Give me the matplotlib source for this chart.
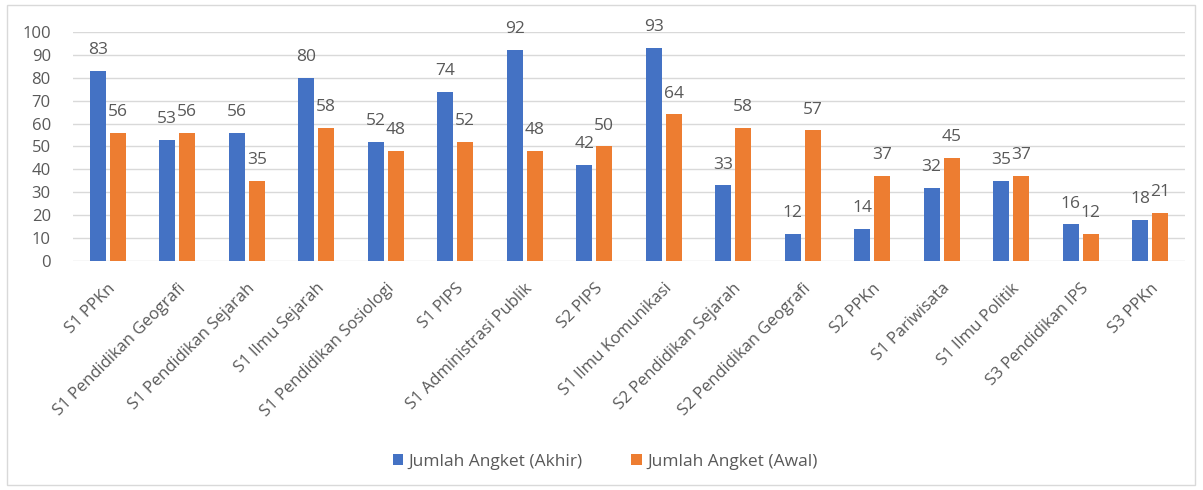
import matplotlib
matplotlib.use("Agg")
import matplotlib.pyplot as plt
import numpy as np
from matplotlib.patches import Rectangle

categories = ["S1 PPKn", "S1 Pendidikan Geografi", "S1 Pendidikan Sejarah", "S1 Ilmu Sejarah",
              "S1 Pendidikan Sosiologi", "S1 PIPS", "S1 Administrasi Publik", "S2 PIPS",
              "S1 Ilmu Komunikasi", "S2 Pendidikan Sejarah", "S2 Pendidikan Geografi", "S2 PPKn",
              "S1 Pariwisata", "S1 Ilmu Politik", "S3 Pendidikan IPS", "S3 PPKn"]
akhir = [83, 53, 56, 80, 52, 74, 92, 42, 93, 33, 12, 14, 32, 35, 16, 18]
awal = [56, 56, 35, 58, 48, 52, 48, 50, 64, 58, 57, 37, 45, 37, 12, 21]
yticks = [0, 10, 20, 30, 40, 50, 60, 70, 80, 90, 100]

blue = "#4472C4"
orange = "#ED7D31"
txt = "#595959"

plt.rcParams['font.family'] = ['Open Sans', 'DejaVu Sans']

fig = plt.figure(figsize=(12.03, 4.9), dpi=100)
fig.patches.append(Rectangle((7/1203, 5/490), 1188/1203, 480/490, transform=fig.transFigure,
                             fill=False, edgecolor="#D9D9D9", linewidth=1))
ax = fig.add_axes([73/1203, 1 - 261/490, 1112/1203, 229/490])
x = np.arange(len(categories))
w = 0.235
off = 0.145
b1 = ax.bar(x - off, akhir, w, color=blue, label="Jumlah Angket (Akhir)", zorder=3)
b2 = ax.bar(x + off, awal, w, color=orange, label="Jumlah Angket (Awal)", zorder=3)
for bars, vals in ((b1, akhir), (b2, awal)):
    for r, v in zip(bars, vals):
        ax.annotate(str(v), (r.get_x() + r.get_width() / 2, v), xytext=(0, 15),
                    textcoords="offset points", ha="center", va="center",
                    fontsize=12.5, color=txt)

ax.set_xlim(-0.5, len(categories) - 0.5)
ax.set_ylim(0, 100)
ax.set_yticks(yticks)
ax.set_yticklabels([str(t) for t in yticks], fontsize=12, color=txt)
ax.set_xticks(x)
ax.set_xticklabels(categories, rotation=45, ha="right", rotation_mode="anchor", fontsize=12, color=txt)
ax.grid(axis="y", color="#D9D9D9", linewidth=1, zorder=0)
for s in ax.spines.values():
    s.set_visible(False)
ax.tick_params(axis="both", length=0)
ax.tick_params(axis="x", pad=14)
ax.tick_params(axis="y", pad=16)

fig.legend(handles=[b1, b2], loc="center", bbox_to_anchor=(0.503, 1 - 462/490), ncol=2, frameon=False,
           fontsize=12.5, handlelength=0.6, handleheight=0.6, columnspacing=2.8, labelcolor=txt,
           handletextpad=0.3)

fig.savefig("out.png", dpi=100, facecolor="white")
